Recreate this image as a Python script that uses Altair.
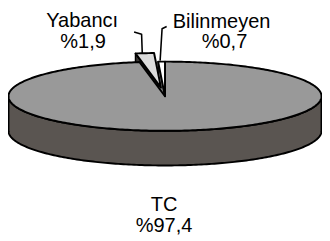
import math
import altair as alt
import pandas as pd

# ---- data ----
labels = ["TC", "Yabancı", "Bilinmeyen"]
values = [97.4, 1.9, 0.7]
pct_labels = ["%97,4", "%1,9", "%0,7"]
explode = [0.0, 0.25, 0.0]

top_colors = ["#999999", "#dcdcdc", "#ffffff"]
side_color = "#5a5551"
face_colors = ["#5a5551", "#3a3734", "#8c8c8c"]

# ---- layout (pixel geometry of the tilted pie) ----
W, H = 322, 233
CX, CY = 169.0, 95.5      # page px of pie centre
RX, RY = 160.5, 35.5      # radii in px
DEPTH = 1.0               # thickness in y-units (= RY px)

def u_of(px):
    return (px - CX) / RX

def v_of(py):
    return (CY - py) / RY

XD = [u_of(8), u_of(8 + W)]
YD = [v_of(8 + H), v_of(8)]
xs = alt.Scale(domain=XD, nice=False, zero=False)
ys = alt.Scale(domain=YD, nice=False, zero=False)


def df_of(pts):
    return pd.DataFrame({"x": [p[0] for p in pts], "y": [p[1] for p in pts],
                         "i": list(range(len(pts)))})


def poly(pts, fill, sw=2):
    return alt.Chart(df_of(pts)).mark_line(
        interpolate="linear-closed", filled=True, fill=fill, stroke="black",
        strokeWidth=sw, strokeJoin="round"
    ).encode(
        x=alt.X("x:Q", scale=xs, axis=None),
        y=alt.Y("y:Q", scale=ys, axis=None),
        order="i:Q",
    )


def arc(t0, t1, ox=0.0, oy=0.0, dz=0.0, n=None):
    if n is None:
        n = max(2, int(abs(t1 - t0)) + 1)
    out = []
    for k in range(n + 1):
        t = math.radians(t0 + (t1 - t0) * k / n)
        out.append((ox + math.cos(t), oy + math.sin(t) - dz))
    return out


total = sum(values)
starts, ends = [], []
acc = 0.0
for v in values:
    starts.append(90 - acc / total * 360)
    acc += v
    ends.append(90 - acc / total * 360)

offs = []
for i in range(len(values)):
    tm = math.radians((starts[i] + ends[i]) / 2)
    offs.append((explode[i] * math.cos(tm), explode[i] * math.sin(tm)))

layers = []
# front side band
side = arc(180, 360) + arc(360, 180, dz=DEPTH)
layers.append(poly(side, side_color))

# radial faces visible through the gap (left faces of slices 1 and 2)
for i in [1, 2]:
    t = math.radians(ends[i - 1])
    ox, oy = offs[i]
    c = (ox, oy)
    r = (ox + math.cos(t), oy + math.sin(t))
    quad = [c, r, (r[0], r[1] - DEPTH), (c[0], c[1] - DEPTH)]
    layers.append(poly(quad, face_colors[i], sw=1.5))

# top faces
for i in range(len(values)):
    ox, oy = offs[i]
    pts = [(ox, oy)] + arc(starts[i], ends[i], ox, oy)
    layers.append(poly(pts, top_colors[i]))

# leader lines
leaders = [
    [(137.3, 29.7), (145, 32), (145.7, 52)],
    [(170.7, 24), (166, 26.3), (164, 59)],
]
for ld in leaders:
    d = pd.DataFrame({"x": [u_of(p[0]) for p in ld], "y": [v_of(p[1]) for p in ld],
                      "i": list(range(len(ld)))})
    layers.append(alt.Chart(d).mark_line(color="black", strokeWidth=1.6,
                                         strokeJoin="round").encode(
        x=alt.X("x:Q", scale=xs, axis=None),
        y=alt.Y("y:Q", scale=ys, axis=None),
        order="i:Q"))

# text labels
text_pos = {
    "TC": [(168, 213), (168, 235)],
    "Yabancı": [(84, 25), (85, 46)],
    "Bilinmeyen": [(227, 26), (230, 46)],
}
rows = []
for i, name in enumerate(labels):
    (x1, y1), (x2, y2) = text_pos[name]
    rows.append({"x": u_of(x1), "y": v_of(y1), "t": name})
    rows.append({"x": u_of(x2), "y": v_of(y2), "t": pct_labels[i]})
layers.append(alt.Chart(pd.DataFrame(rows)).mark_text(
    font="Liberation Sans", fontSize=20.5, color="black", align="center",
    baseline="alphabetic").encode(
    x=alt.X("x:Q", scale=xs, axis=None),
    y=alt.Y("y:Q", scale=ys, axis=None),
    text="t:N"))

chart = alt.layer(*layers).properties(
    width=W, height=H, autosize=alt.AutoSizeParams(type="none"), padding=0
).configure_view(stroke=None)

chart.save("out.html", embed_options={"renderer": "svg", "actions": False})
